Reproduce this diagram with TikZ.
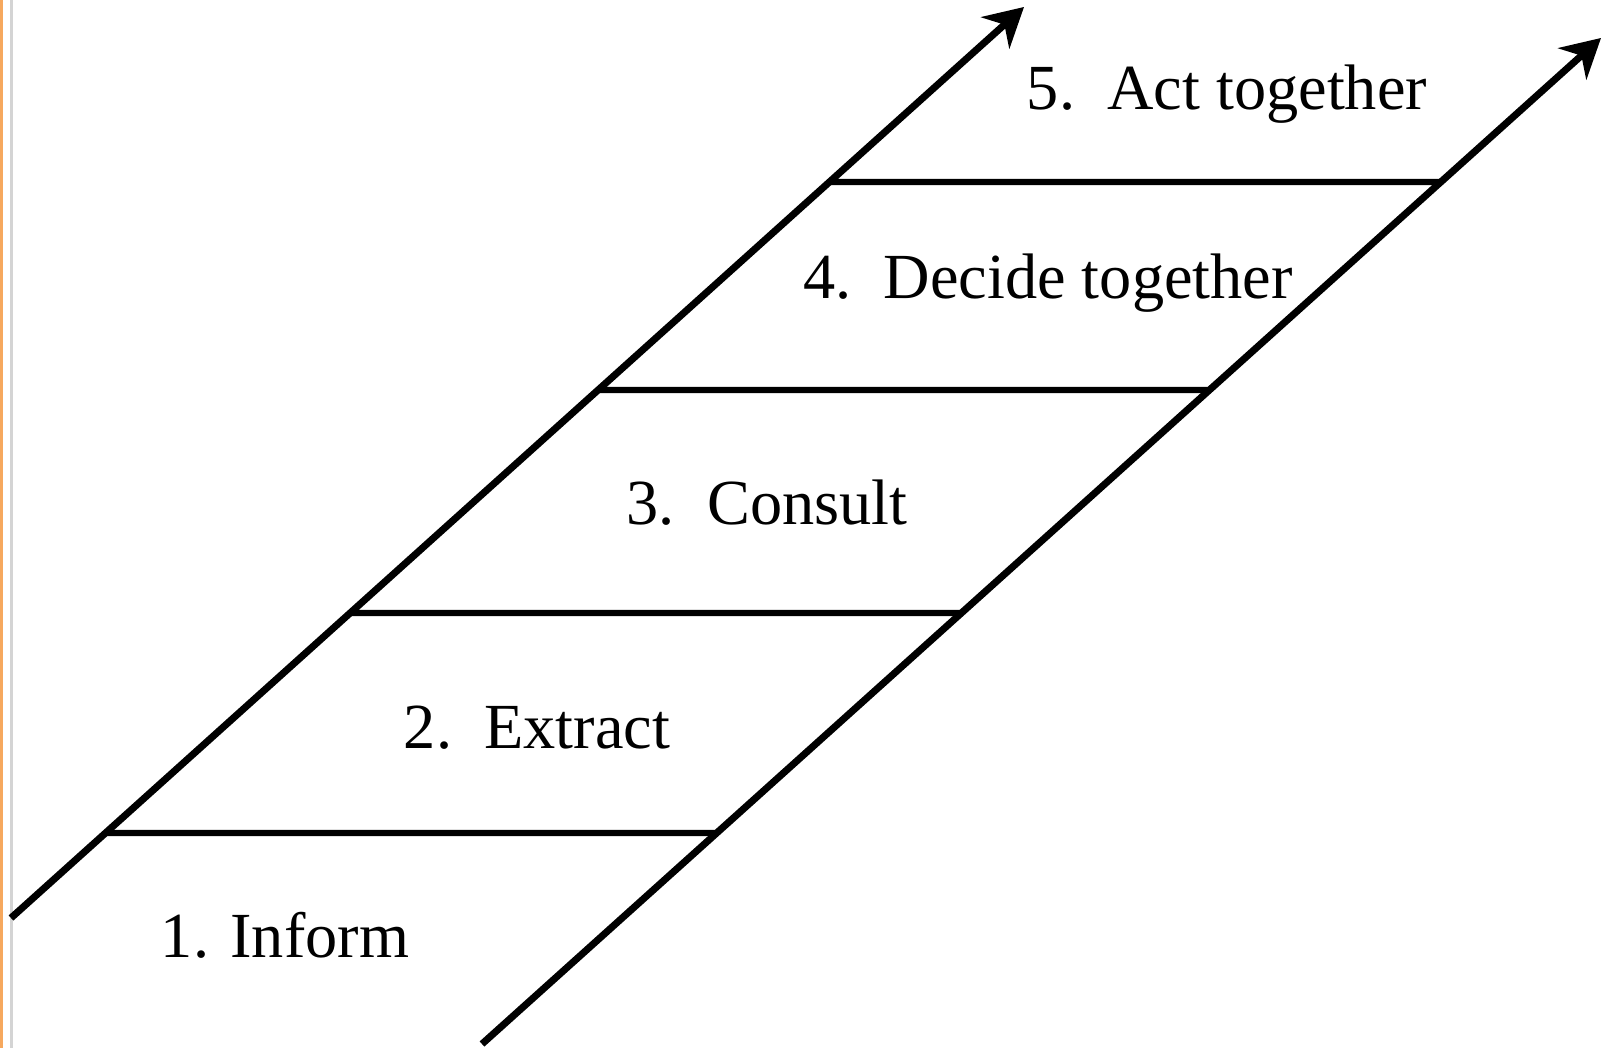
\documentclass[tikz,border=0pt]{standalone}
\usepackage{fontspec}
\setmainfont{Liberation Serif}
\usetikzlibrary{arrows.meta,calc}
\definecolor{edgeor}{HTML}{F6A85E}
\definecolor{edgegr}{HTML}{D4D4D4}

\begin{document}
\begin{tikzpicture}[
    rail/.style={line width=2pt,-{Stealth[length=11pt,width=12pt,inset=3.5pt]}},
    rung/.style={line width=1.8pt},
    stage/.style={font=\fontsize{18.3}{22}\selectfont,inner sep=0pt}
  ]
  \useasboundingbox (0,0) rectangle (16.08,10.48);
  % page edge
  \fill[edgeor] (0,0) rectangle (0.03,10.48);
  \fill[edgegr] (0.10,0) rectangle (0.13,10.48);
  % rails
  \coordinate (lb) at (0.11,1.30);
  \coordinate (lt) at (10.24,10.41);
  \coordinate (rb) at (4.82,0.04);
  \coordinate (rt) at (16.01,10.10);
  \draw[rail] (lb) -- (lt);
  \draw[rail] (rb) -- (rt);
  % rungs
  \foreach \y [count=\i] in {2.15,4.35,6.58,8.66}{
    \coordinate (l\i) at (intersection cs: first line={(lb)--(lt)}, second line={(0,\y)--(1,\y)});
    \coordinate (r\i) at (intersection cs: first line={(rb)--(rt)}, second line={(0,\y)--(1,\y)});
    \draw[rung] (l\i) -- (r\i);
  }
  % stages
  \node[stage] (inform)  at (2.85,1.13) {1. Inform};
  \node[stage] (extract) at (5.37,3.20) {2.\hspace{0.5em}Extract};
  \node[stage] (consult) at (7.67,5.45) {3.\hspace{0.5em}Consult};
  \node[stage] (decide)  at (10.48,7.65) {4.\hspace{0.5em}Decide together};
  \node[stage] (act)     at (12.27,9.54) {5.\hspace{0.5em}Act together};
\end{tikzpicture}
\end{document}
